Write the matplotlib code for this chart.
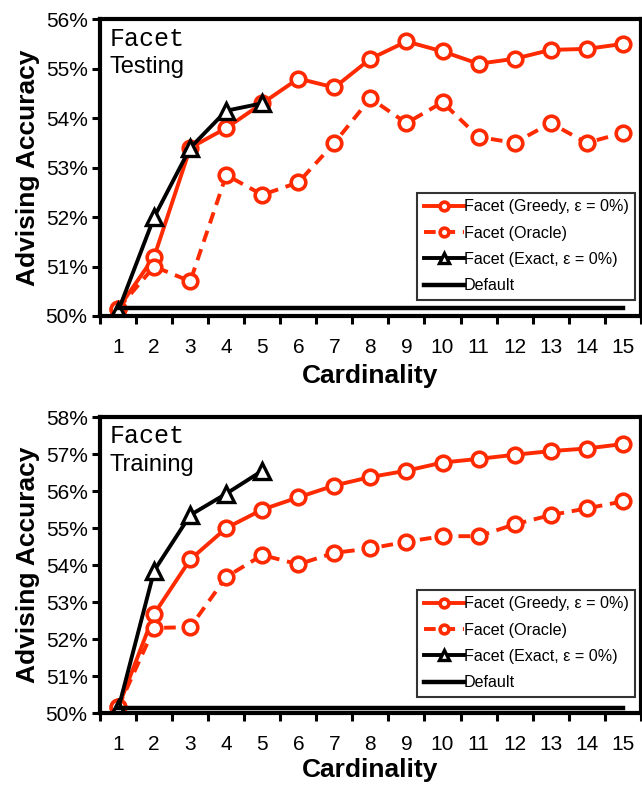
import matplotlib
matplotlib.use("Agg")
from matplotlib import pyplot as plt
from matplotlib.ticker import FixedLocator, FuncFormatter
import numpy as np

plt.rcParams['font.family'] = ['Liberation Sans', 'DejaVu Sans']

# cardinality values
card = list(range(1, 16))

# testing panel (accuracy in %)
test_greedy = [50.15, 51.2, 53.4, 53.8, 54.3, 54.8, 54.62, 55.2, 55.55, 55.35,
               55.1, 55.2, 55.38, 55.4, 55.5]
test_oracle = [50.15, 51.0, 50.7, 52.85, 52.45, 52.7, 53.5, 54.4, 53.9, 54.32,
               53.62, 53.5, 53.9, 53.5, 53.7]
test_exact = [50.1, 52.0, 53.4, 54.15, 54.3]
test_default = 50.17

# training panel (accuracy in %)
train_greedy = [50.15, 52.68, 54.15, 55.0, 55.5, 55.83, 56.15, 56.38, 56.55, 56.77,
                56.87, 56.98, 57.08, 57.15, 57.27]
train_oracle = [50.15, 52.3, 52.32, 53.68, 54.27, 54.02, 54.33, 54.45, 54.63, 54.78,
                54.78, 55.1, 55.35, 55.53, 55.72]
train_exact = [50.1, 53.85, 55.35, 55.93, 56.55]
train_default = 50.14

RED = '#FF2A00'


def draw_panel(ax, greedy, oracle, exact, default, ymax, name, xpad):
    mk = dict(marker='o', markersize=10.5, markeredgewidth=2.6,
              markerfacecolor='white', markeredgecolor=RED)
    ax.plot(card, greedy, color=RED, lw=2.8, ls='-', label='Facet (Greedy, ε = 0%)', **mk)
    ax.plot(card, oracle, color=RED, lw=2.8, ls=(0, (3, 2)), label='Facet (Oracle)', **mk)
    ax.plot(card[:len(exact)], exact, color='black', lw=2.8, marker='^', markersize=11,
            markeredgewidth=2.4, markerfacecolor='white', markeredgecolor='black',
            label='Facet (Exact, ε = 0%)')
    ax.plot([card[0], card[-1]], [default, default], color='black', lw=3.2, label='Default')

    ax.set_xlim(0.5, 15.5)
    ax.set_ylim(50, ymax)
    ax.xaxis.set_major_locator(FixedLocator(np.arange(0.5, 16, 1)))
    ax.xaxis.set_minor_locator(FixedLocator(card))
    ax.set_xticklabels([])
    ax.set_xticks(card, [str(c) for c in card], minor=True)
    ax.tick_params(axis='x', which='major', length=6, width=2.2, direction='out')
    ax.tick_params(axis='x', which='minor', length=0, labelsize=15, pad=16)
    ax.set_yticks(np.arange(50, ymax + 0.5, 1))
    ax.yaxis.set_major_formatter(FuncFormatter(lambda v, p: '%d%%' % v))
    ax.tick_params(axis='y', length=6, width=2.2, labelsize=15, pad=3)
    for s in ax.spines.values():
        s.set_linewidth(3)
    ax.set_ylabel('Advising Accuracy', fontsize=19, fontweight='bold', labelpad=4)
    ax.set_xlabel('Cardinality', fontsize=19, fontweight='bold', labelpad=xpad)

    ax.text(0.018, 0.975, 'Facet', transform=ax.transAxes, family='Liberation Mono',
            fontsize=18, va='top', ha='left')
    ax.text(0.018, 0.875, name, transform=ax.transAxes, fontsize=17, va='top', ha='left')

    leg = ax.legend(loc='lower right', bbox_to_anchor=(0.99, 0.055), fontsize=11.6,
                    frameon=True, fancybox=False, handlelength=2.5, handletextpad=0.0,
                    borderpad=0.4, labelspacing=0.7, markerscale=0.6, borderaxespad=0)
    leg.get_frame().set_edgecolor('black')
    leg.get_frame().set_linewidth(1.5)


fig = plt.figure(figsize=(6.42, 7.85), dpi=100)
ax1 = fig.add_axes([0.156, 0.5975, 0.842, 0.378])
ax2 = fig.add_axes([0.156, 0.0917, 0.842, 0.377])

draw_panel(ax1, test_greedy, test_oracle, test_exact, test_default, 56, 'Testing', 5)
draw_panel(ax2, train_greedy, train_oracle, train_exact, train_default, 58, 'Training', 3)

fig.savefig('out.png', dpi=100)
